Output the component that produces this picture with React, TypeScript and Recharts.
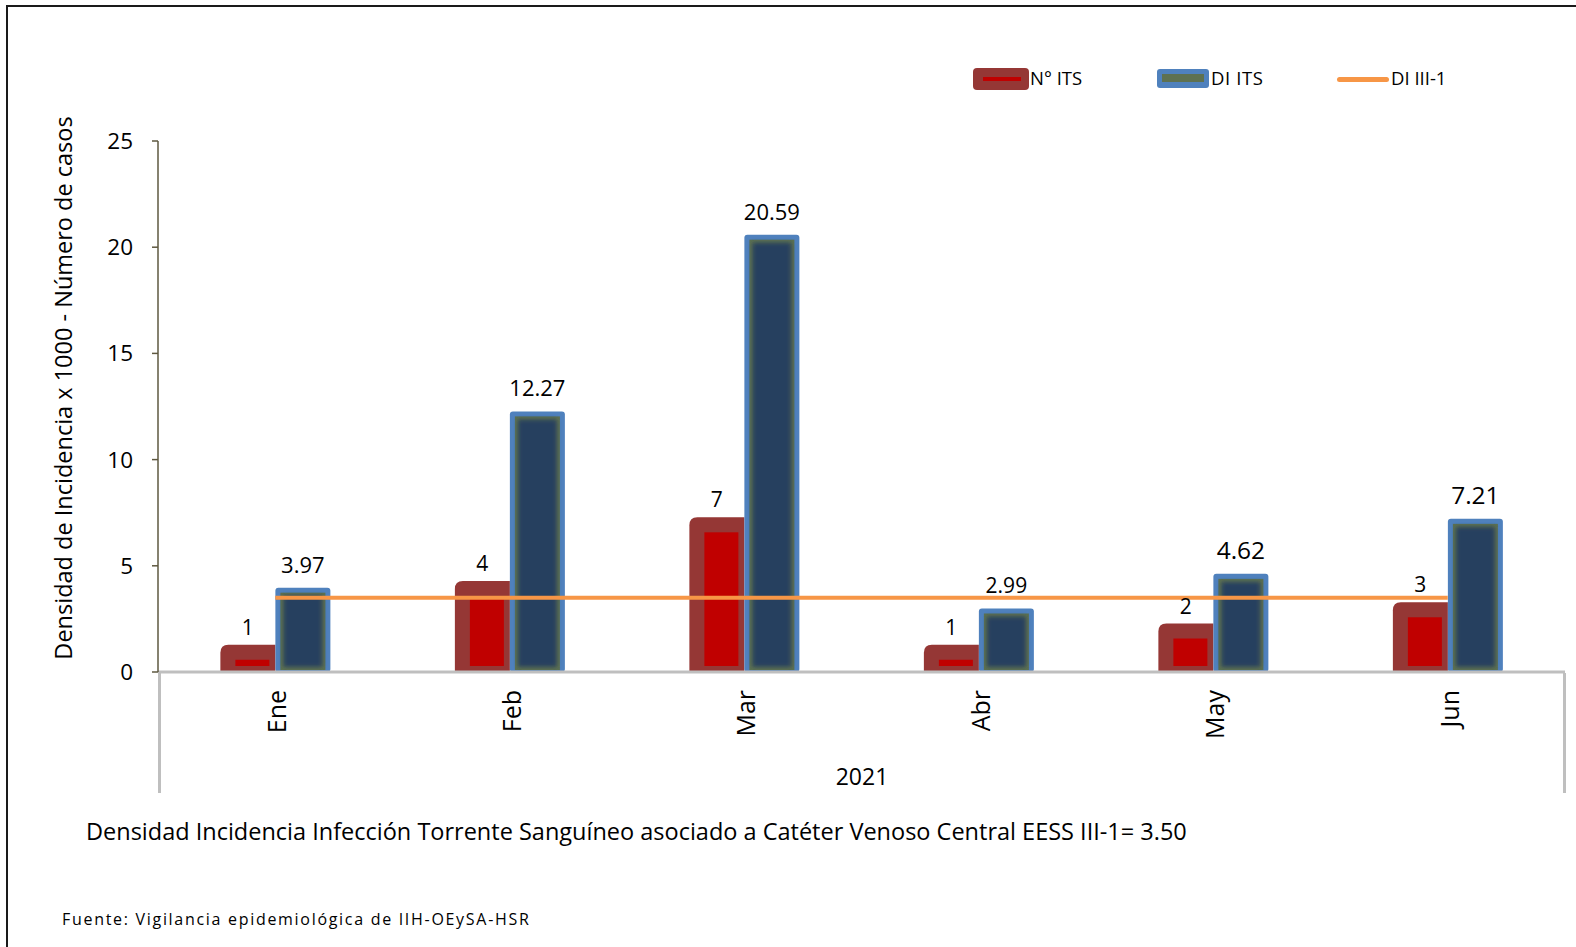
import React from 'react'
import { ComposedChart, Bar, Line, XAxis, YAxis, LabelList } from 'recharts'

const months = ['Ene', 'Feb', 'Mar', 'Abr', 'May', 'Jun']
const casosITS = [1, 4, 7, 1, 2, 3]
const densidadITS = [3.97, 12.27, 20.59, 2.99, 4.62, 7.21]
const densidadIII1 = [3.5, 3.5, 3.5, 3.5, 3.5, 3.5]
const yTicks = [0, 5, 10, 15, 20, 25]

const data = months.map((mes, i) => ({
  mes,
  casos: casosITS[i],
  di: densidadITS[i],
  ref: densidadIII1[i],
}))

const FONT = '"Open Sans", Lato, sans-serif'
// label sizes as they appear in the source picture
const blueLabelSize = [22, 22, 22, 21, 24.5, 24.5]

const RedBar = (props: any) => {
  const { x, y, width, height } = props
  if (width == null || height == null) return null
  const top = y - 6
  const bottom = y + height
  const r = 8
  const d = `M${x},${bottom} L${x},${top + r} Q${x},${top} ${x + r},${top} L${x + width},${top} L${x + width},${bottom} Z`
  const innerH = Math.max(bottom - 6 - (top + 15), 0)
  return (
    <g>
      <path d={d} fill="#953735" />
      <rect x={x + 15} y={top + 15} width={width - 21} height={innerH} fill="#C00000" />
    </g>
  )
}

const BlueBar = (props: any) => {
  const { x, y, width, height } = props
  if (width == null || height == null) return null
  return (
    <g>
      <rect x={x} y={y} width={width} height={height} rx={3} fill="#4F81BD" />
      <rect x={x + 5} y={y + 5} width={width - 10} height={Math.max(height - 7, 0)} fill="#5E7150" />
      <rect
        x={x + 8}
        y={y + 8}
        width={width - 16}
        height={Math.max(height - 13, 0)}
        fill="#26405F"
        filter="url(#soft)"
      />
    </g>
  )
}

const redLabel = (props: any) => {
  const { x, y, width, value } = props
  return (
    <text x={x + width / 2} y={y - 16} textAnchor="middle" fontSize={21} fontFamily={FONT} fill="#000">
      {value}
    </text>
  )
}

const blueLabel = (props: any) => {
  const { x, y, width, value, index } = props
  return (
    <text
      x={x + width / 2}
      y={y - 15}
      textAnchor="middle"
      fontSize={blueLabelSize[index] || 22}
      fontFamily={FONT}
      fill="#000"
    >
      {Number(value).toFixed(2)}
    </text>
  )
}

const MonthTick = (props: any) => {
  const { x, y, payload } = props
  return (
    <text
      transform={`translate(${x + 1},${y + 18}) rotate(-90)`}
      textAnchor="end"
      dominantBaseline="central"
      fontSize={25}
      fontFamily={FONT}
      fill="#000"
    >
      {payload.value}
    </text>
  )
}

export default function App() {
  return (
    <div
      style={{
        position: 'absolute',
        left: 0,
        top: 0,
        width: 1576,
        height: 947,
        background: '#fff',
        overflow: 'hidden',
        fontFamily: FONT,
      }}
    >
      <div
        style={{
          position: 'absolute',
          left: 6,
          top: 5,
          width: 1600,
          height: 1000,
          borderLeft: '2px solid #1a1a1a',
          borderTop: '2px solid #1a1a1a',
        }}
      />

      <ComposedChart
        width={1576}
        height={947}
        data={data}
        margin={{ top: 141, right: 11, bottom: 155, left: 0 }}
        barCategoryGap="26.6%"
        barGap={0}
        style={{ position: 'absolute', left: 0, top: 0 }}
      >
        <defs>
          <filter id="soft" x="-20%" y="-20%" width="140%" height="140%">
            <feGaussianBlur stdDeviation="2" />
          </filter>
        </defs>
        <XAxis
          dataKey="mes"
          height={120}
          axisLine={{ stroke: '#BFBFBF', strokeWidth: 3 }}
          tickLine={false}
          tickSize={0}
          tickMargin={0}
          tick={<MonthTick />}
          interval={0}
        />
        <YAxis
          width={158}
          domain={[0, 25]}
          ticks={yTicks}
          interval={0}
          axisLine={{ stroke: '#5E5840', strokeWidth: 1.5 }}
          tickLine={{ stroke: '#5E5840', strokeWidth: 1.5 }}
          tickSize={6}
          tickMargin={19}
          tick={{ fontSize: 22.5, fill: '#000', fontFamily: FONT }}
          label={{
            content: () => (
              <text
                transform="translate(72,388) rotate(-90)"
                textAnchor="middle"
                fontSize={23.5}
                fontFamily={FONT}
                fill="#000"
              >
                Densidad de Incidencia x 1000  - Número de casos
              </text>
            ),
          }}
        />
        <Bar dataKey="casos" name="N° ITS" shape={<RedBar />} isAnimationActive={false}>
          <LabelList dataKey="casos" content={redLabel} />
        </Bar>
        <Bar dataKey="di" name="DI ITS" shape={<BlueBar />} isAnimationActive={false}>
          <LabelList dataKey="di" content={blueLabel} />
        </Bar>
        <Line
          dataKey="ref"
          name="DI III-1"
          stroke="#F79646"
          strokeWidth={4}
          dot={false}
          activeDot={false}
          isAnimationActive={false}
        />
      </ComposedChart>

      {/* category axis frame */}
      <div style={{ position: 'absolute', left: 158, top: 673, width: 3, height: 120, background: '#BFBFBF' }} />
      <div style={{ position: 'absolute', left: 1563, top: 673, width: 3, height: 120, background: '#BFBFBF' }} />
      <div
        style={{
          position: 'absolute',
          left: 762,
          width: 200,
          top: 761,
          textAlign: 'center',
          fontSize: 23,
          lineHeight: '30px',
        }}
      >
        2021
      </div>

      {/* legend */}
      <div style={{ position: 'absolute', left: 973, top: 68, width: 56, height: 22, background: '#953735', borderRadius: 4 }}>
        <div style={{ position: 'absolute', left: 10, top: 9, width: 38, height: 4, background: '#C00000' }} />
      </div>
      <div style={{ position: 'absolute', left: 1030, top: 65, fontSize: 18.5, lineHeight: '26px' }}>N° ITS</div>
      <div style={{ position: 'absolute', left: 1157, top: 69, width: 52, height: 19, background: '#4F81BD', borderRadius: 3 }}>
        <div style={{ position: 'absolute', left: 5, top: 5, width: 42, height: 8, background: '#5E7150' }} />
      </div>
      <div style={{ position: 'absolute', left: 1211, top: 65, fontSize: 18.5, lineHeight: '26px', letterSpacing: 0.6 }}>
        DI ITS
      </div>
      <div style={{ position: 'absolute', left: 1337, top: 77, width: 52, height: 5, background: '#F79646', borderRadius: 3 }} />
      <div style={{ position: 'absolute', left: 1391, top: 65, fontSize: 18.5, lineHeight: '26px' }}>DI III-1</div>

      {/* notes */}
      <div style={{ position: 'absolute', left: 86, top: 815, fontSize: 23.5, lineHeight: '32px', whiteSpace: 'nowrap' }}>
        Densidad Incidencia Infección Torrente Sanguíneo asociado a Catéter Venoso Central EESS III-1= 3.50
      </div>
      <div
        style={{
          position: 'absolute',
          left: 62,
          top: 907,
          fontSize: 16,
          lineHeight: '24px',
          letterSpacing: 1.7,
          whiteSpace: 'nowrap',
        }}
      >
        Fuente: Vigilancia epidemiológica de IIH-OEySA-HSR
      </div>
    </div>
  )
}
